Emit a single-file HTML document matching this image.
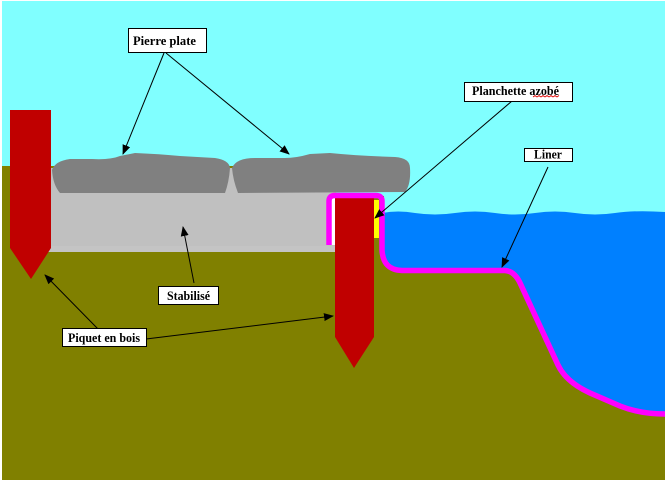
<!DOCTYPE html>
<html><head><meta charset="utf-8"><style>
html,body{margin:0;padding:0;background:#fff;}
svg{display:block;}
text{font-family:"Liberation Serif",serif;font-weight:bold;font-size:13px;fill:#000;}
</style></head><body>
<svg width="665" height="480" viewBox="0 0 665 480" xmlns="http://www.w3.org/2000/svg">
<defs>
<marker id="ah" markerWidth="10" markerHeight="8" refX="9" refY="4" orient="auto" markerUnits="userSpaceOnUse">
<path d="M0,0 L10,4 L0,8 Z" fill="#000"/>
</marker>
</defs>
<!-- sky -->
<rect x="0" y="0" width="665" height="480" fill="#80FFFF"/>
<!-- ground -->
<rect x="0" y="166" width="665" height="314" fill="#808000"/>
<!-- sky to right above water -->
<rect x="384" y="166" width="281" height="50" fill="#80FFFF"/>
<rect x="336" y="166" width="50" height="30" fill="#80FFFF"/>
<!-- water -->
<path d="M382,213 Q398,210 415,213 Q435,216 455,213 Q475,210 495,213 Q515,216 535,213 Q555,210 575,213 Q595,216 615,213 Q635,210 665,212 L665,415 Q640,414 620,406 L590,393 Q566,382 558,365 L521,285 Q515,271 505,270.5 L402,270.5 Q383,270 382,250 Z" fill="#0080FF"/>
<!-- stabilise -->
<rect x="50" y="168" width="286" height="80" fill="#C0C0C0"/>
<rect x="48" y="246" width="290" height="6" fill="#C4C4C4"/>
<!-- stones -->
<path d="M60,193 Q53,185 52,170 Q55,161 70,159 L92,159 Q110,160 120,156 L135,153 Q160,154 180,156 L215,158 Q229,160 230,168 Q229,182 225,193 Z" fill="#808080"/>
<path d="M238,193 Q233,180 232,168 Q236,158 255,158 L285,158 Q296,158 310,154 L330,153 Q360,156 395,157 Q410,158 410,168 Q411,185 405,192 Z" fill="#808080"/>
<!-- white stripe -->
<rect x="331" y="198" width="5" height="47" fill="#fff"/>
<!-- stakes -->
<polygon points="10,110 51,110 51,248 31,279 10,248" fill="#C00000"/>
<polygon points="335,198 374,198 374,337 354,368 335,337" fill="#C00000"/>
<!-- yellow planchette -->
<rect x="374" y="200" width="5" height="38" fill="#FFFF00"/>
<!-- liner -->
<path d="M329,245 L329,201 Q329,195.5 335,195.5 L376,195.5 Q382,195.5 382,201 L382,250 Q383,270 402,270.5 L505,270.5 Q515,271 521,285 L558,365 Q566,382 590,393 L620,406 Q640,414 665,414" fill="none" stroke="#FF00FF" stroke-width="5.5"/>
<!-- borders -->
<rect x="0" y="0" width="2" height="480" fill="#fff"/>
<rect x="0" y="0" width="665" height="1" fill="#fff"/>
<!-- arrows -->
<g stroke="#000" stroke-width="1" fill="none" marker-end="url(#ah)">
<line x1="164" y1="53" x2="123" y2="154"/>
<line x1="166" y1="53" x2="289" y2="154"/>
<line x1="512" y1="101" x2="375" y2="218"/>
<line x1="548" y1="167" x2="502" y2="267"/>
<line x1="194" y1="283" x2="183" y2="227"/>
<line x1="98" y1="329" x2="45" y2="275"/>
<line x1="146" y1="339" x2="333" y2="316"/>
</g>
<!-- labels -->
<rect x="128.5" y="28.5" width="78" height="24" fill="#fff" stroke="#000"/>
<text x="133" y="45" textLength="63" lengthAdjust="spacingAndGlyphs">Pierre plate</text>
<rect x="464.5" y="82.5" width="108" height="19" fill="#fff" stroke="#000"/>
<text x="472" y="95" textLength="87" lengthAdjust="spacingAndGlyphs">Planchette azobé</text>
<polyline points="533,97 535,95.5 537,97 539,95.5 541,97 543,95.5 545,97 547,95.5 549,97 551,95.5 553,97 555,95.5 557,97 559,95.5" fill="none" stroke="#E00000" stroke-width="0.8"/>
<rect x="524.5" y="148.5" width="48" height="13" fill="#fff" stroke="#000"/>
<text x="534" y="158.5" textLength="28" lengthAdjust="spacingAndGlyphs">Liner</text>
<rect x="158.5" y="286.5" width="60" height="18" fill="#fff" stroke="#000"/>
<text x="167" y="300" textLength="43" lengthAdjust="spacingAndGlyphs">Stabilisé</text>
<rect x="62.5" y="328.5" width="84" height="18" fill="#fff" stroke="#000"/>
<text x="68" y="342" textLength="72" lengthAdjust="spacingAndGlyphs">Piquet en bois</text>
</svg>
</body></html>
